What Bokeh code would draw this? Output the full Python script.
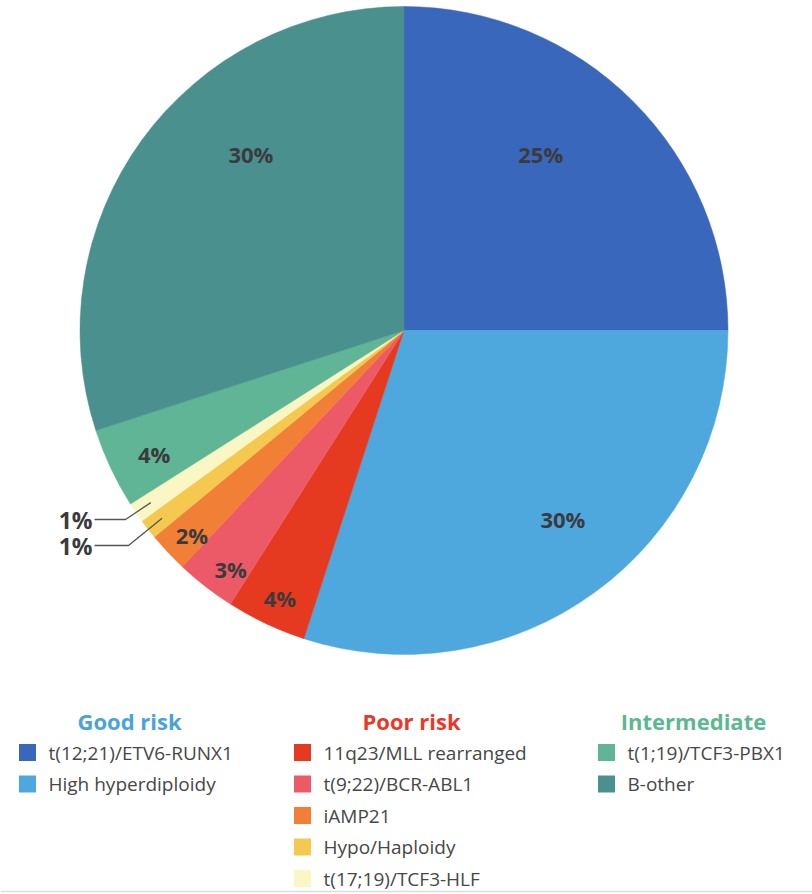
import math
from bokeh.plotting import figure
from bokeh.models import Range1d, ColumnDataSource
from bokeh.core.properties import value
from bokeh.embed import file_html
from bokeh.resources import INLINE

# Cytogenetic subtypes of B-ALL, clockwise from 12 o'clock
subtypes = ["t(12;21)/ETV6-RUNX1", "High hyperdiploidy", "11q23/MLL rearranged",
            "t(9;22)/BCR-ABL1", "iAMP21", "Hypo/Haploidy", "t(17;19)/TCF3-HLF",
            "t(1;19)/TCF3-PBX1", "B-other"]
shares = [25, 30, 4, 3, 2, 1, 1, 4, 30]
colors = ["#3967bc", "#4ea8dd", "#e63a20", "#ec5a67", "#f17f35", "#f5c850",
          "#fbf7c4", "#5fb595", "#4a908f"]
risk_group = ["Good risk", "Good risk", "Poor risk", "Poor risk", "Poor risk",
              "Poor risk", "Poor risk", "Intermediate", "Intermediate"]
group_names = ["Good risk", "Poor risk", "Intermediate"]
group_colors = ["#4aa3d9", "#e8392a", "#5db892"]

W, H = 812, 894
CX, CY, R = 403.5, 330.0, 324.0   # pie centre / radius in page pixels (y down)

def Y(y):
    return H - y

p = figure(width=W, height=H, x_range=Range1d(0, W), y_range=Range1d(0, H),
           output_backend="svg", toolbar_location=None, min_border=0,
           background_fill_color="white", border_fill_color="white")
p.axis.visible = False
p.grid.visible = False
p.outline_line_color = None

# ---- pie wedges -------------------------------------------------------
total = float(sum(shares))
cum = 0.0
starts, ends, mids = [], [], []
for s in shares:
    a0 = cum / total
    cum += s
    a1 = cum / total
    starts.append(math.pi / 2 - 2 * math.pi * a0)
    ends.append(math.pi / 2 - 2 * math.pi * a1)
    mids.append(360.0 * (a0 + a1) / 2)   # degrees clockwise from top

src = ColumnDataSource(dict(x=[CX] * len(shares), y=[Y(CY)] * len(shares),
                            start=starts, end=ends, color=colors))
p.wedge(x="x", y="y", radius=R, start_angle="start", end_angle="end",
        direction="clock", fill_color="color", line_color="color",
        line_width=0.5, source=src)

def polar(deg, frac):
    a = math.radians(deg)
    return CX + R * frac * math.sin(a), CY - R * frac * math.cos(a)

# ---- percentage labels inside the slices -------------------------------
# (radius fraction, angular nudge in degrees); None = labelled outside
label_place = [(0.69, -7.3), (0.76, -4.2), (0.91, -0.3), (0.91, -1.8),
               (0.91, -0.8), None, None, (0.86, -1.1), (0.72, 13.0)]
lx, ly, lt = [], [], []
for s, m, place in zip(shares, mids, label_place):
    if place is None:
        continue
    x, y = polar(m + place[1], place[0])
    lx.append(x)
    ly.append(Y(y))
    lt.append(f"{s}%")
p.text(x=lx, y=ly, text=lt, text_align="center", text_baseline="middle",
       text_font=value("Open Sans"), text_font_style="bold",
       text_font_size="22px", text_color="#3b3b3d")

# ---- outside labels with leader lines for the two 1% slices -----------
outside = [(6, 519.0, 125.0), (5, 545.0, 128.0)]   # (slice, label y, elbow x)
ox, oy, ot, xs, ys = [], [], [], [], []
for idx, yy, ex in outside:
    px, py = polar(mids[idx], 0.945)
    xs.append([94.0, ex, px])
    ys.append([Y(yy), Y(yy), Y(py)])
    ox.append(92.0)
    oy.append(Y(yy))
    ot.append(f"{shares[idx]}%")
p.multi_line(xs=xs, ys=ys, line_color="#555555", line_width=1.3)
p.text(x=ox, y=oy, text=ot, text_align="right", text_baseline="middle",
       text_font=value("Open Sans"), text_font_style="bold",
       text_font_size="23px", text_color="#3b3b3d")

# ---- grouped legend ---------------------------------------------------
col_heading_x = [129.0, 411.0, 693.0]
col_square_x = [27.0, 302.0, 606.0]
heading_y = 720.0
row0_y, row_step = 752.0, 31.5

p.text(x=col_heading_x, y=[Y(heading_y)] * 3, text=group_names,
       text_align="center", text_baseline="middle",
       text_font=value("Open Sans"), text_font_style="bold",
       text_font_size="22px", text_color=group_colors)

sq_x, sq_y, sq_c, tx, ty, tt = [], [], [], [], [], []
for gi, g in enumerate(group_names):
    row = 0
    for name, c, rg in zip(subtypes, colors, risk_group):
        if rg != g:
            continue
        yy = row0_y + row * row_step
        sq_x.append(col_square_x[gi])
        sq_y.append(Y(yy))
        sq_c.append(c)
        tx.append(col_square_x[gi] + 21)
        ty.append(Y(yy))
        tt.append(name)
        row += 1
p.rect(x=sq_x, y=sq_y, width=17, height=17, fill_color=sq_c, line_color=None)
p.text(x=tx, y=ty, text=tt, text_align="left", text_baseline="middle",
       text_font=value("Open Sans"), text_font_size="19px",
       text_color="#474747")

# thin rule along the bottom edge
p.segment(x0=[0], y0=[Y(891)], x1=[W], y1=[Y(891)], line_color="#dddddd",
          line_width=1.5)

open("out.html", "w").write(file_html(p, INLINE))
